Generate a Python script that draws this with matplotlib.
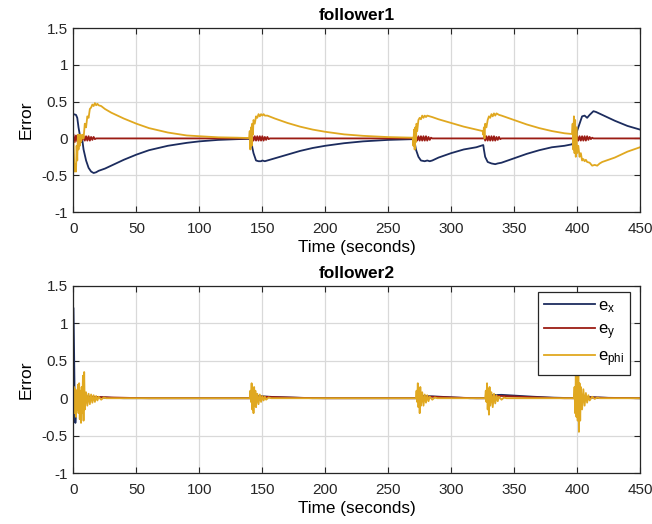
import matplotlib
matplotlib.use("Agg")
import matplotlib.pyplot as plt

plt.rcParams['font.family'] = ['Liberation Sans', 'DejaVu Sans']
plt.rcParams['mathtext.fontset'] = 'custom'
plt.rcParams['mathtext.rm'] = 'Liberation Sans'
plt.rcParams['mathtext.it'] = 'Liberation Sans'

# ---------------- follower1 ----------------
ex1_t = [0, 2, 3, 4, 5, 6, 7, 8, 10, 12, 14, 16, 18, 20, 25, 30, 40, 50, 60, 75, 90, 100, 115, 130, 140,
         140.5, 141, 142, 143, 145, 147, 149, 150, 152, 154, 160, 170, 180, 190, 200, 215, 230, 250, 269.5,
         271, 272, 274, 276, 279, 281, 283, 285, 290, 300, 310, 320, 325.5,
         326, 327, 329, 332, 335, 337, 340, 350, 360, 370, 380, 390, 396,
         397, 398, 399, 400, 402, 404, 406, 408, 410, 413, 415, 420, 425, 430, 440, 450]
ex1_v = [0.33, 0.32, 0.28, 0.15, 0.05, -0.05, -0.02, -0.15, -0.30, -0.40, -0.45, -0.47, -0.46, -0.44, -0.41, -0.37, -0.29, -0.22, -0.16, -0.10, -0.06, -0.04, -0.02, -0.01, -0.005,
         -0.08, 0.02, -0.12, -0.20, -0.30, -0.31, -0.31, -0.30, -0.31, -0.30, -0.27, -0.22, -0.17, -0.13, -0.10, -0.065, -0.04, -0.02, -0.01,
         -0.05, -0.15, -0.25, -0.30, -0.31, -0.30, -0.31, -0.30, -0.26, -0.20, -0.15, -0.12, -0.09,
         -0.15, -0.25, -0.32, -0.34, -0.35, -0.34, -0.33, -0.27, -0.21, -0.16, -0.12, -0.10, -0.08,
         -0.05, 0.05, -0.10, 0.10, 0.20, 0.30, 0.31, 0.28, 0.32, 0.37, 0.36, 0.32, 0.28, 0.24, 0.17, 0.12]

ey1_t = [0, 1, 2, 3, 4, 5, 6, 7, 8, 9, 10, 11, 12, 13, 14, 15, 16, 17, 18, 140,
         140.5, 141, 142, 143, 144, 145, 146, 147, 148, 149, 150, 151, 152, 153, 154, 155, 156, 270,
         270.5, 271, 272, 273, 274, 275, 276, 277, 278, 279, 280, 281, 282, 283, 284, 285, 326,
         326.5, 327, 328, 329, 330, 331, 332, 333, 334, 335, 336, 337, 338, 339, 340, 398,
         398.5, 399, 400, 401, 402, 403, 404, 405, 406, 407, 408, 409, 410, 411, 412, 413, 450]
ey1_v = [0.05, -0.05, 0.04, -0.04, 0.03, -0.03, 0.02, -0.02, 0.03, -0.03, 0.03, -0.03, 0.03, -0.03, 0.02, -0.02, 0.02, -0.01, 0.0, 0.0,
         0.03, -0.03, 0.03, -0.03, 0.03, -0.03, 0.03, -0.03, 0.03, -0.03, 0.03, -0.03, 0.02, -0.02, 0.02, -0.01, 0.0, 0.0,
         0.03, -0.03, 0.03, -0.03, 0.03, -0.03, 0.03, -0.03, 0.03, -0.03, 0.03, -0.03, 0.02, -0.02, 0.01, 0.0, 0.0,
         0.03, -0.03, 0.03, -0.03, 0.03, -0.03, 0.03, -0.03, 0.03, -0.03, 0.02, -0.02, 0.02, -0.01, 0.0, 0.0,
         0.04, -0.04, 0.03, -0.03, 0.03, -0.03, 0.03, -0.03, 0.03, -0.03, 0.03, -0.02, 0.02, -0.01, 0.01, 0.0, 0.0]

ephi1_t = [0, 0.5, 1, 1.5, 2, 2.5, 3, 3.5, 4, 4.5, 5, 5.5, 6, 7, 8, 9, 10, 11, 12, 13, 14, 15, 16, 17, 18, 19, 20, 22, 25, 30,
           40, 50, 60, 75, 90, 100, 115, 130, 139.5,
           140, 140.5, 141, 141.5, 142, 142.5, 143, 144, 145, 146, 147, 148, 149, 150, 151, 152, 154, 160, 170, 180, 190, 200,
           215, 230, 250, 269.5,
           270, 270.5, 271, 271.5, 272, 272.5, 273, 274, 275, 276, 277, 278, 279, 280, 281, 283, 285, 290, 300, 310, 320, 325,
           325.5, 326, 326.5, 327, 328, 329, 330, 331, 332, 333, 334, 335, 336, 338, 340, 350, 360, 370, 380, 390, 396,
           396.5, 397, 397.5, 398, 398.5, 399, 399.5, 400, 401, 402, 403, 404, 405, 406, 407, 408, 410, 412, 414, 416, 418,
           420, 425, 430, 440, 450]
ephi1_v = [-0.05, -0.30, -0.45, -0.35, -0.45, -0.10, -0.30, 0.05, -0.15, 0.05, -0.10, 0.05, -0.05, 0.05, 0.0, 0.20, 0.15, 0.30, 0.28, 0.40, 0.42, 0.46, 0.44, 0.48, 0.45, 0.47, 0.45, 0.44, 0.40, 0.35,
           0.27, 0.20, 0.14, 0.08, 0.04, 0.03, 0.015, 0.01, 0.005,
           0.10, -0.15, 0.15, -0.10, 0.20, 0.05, 0.25, 0.20, 0.30, 0.28, 0.33, 0.30, 0.33, 0.31, 0.33, 0.31, 0.31, 0.27, 0.21, 0.16, 0.12, 0.09,
           0.055, 0.035, 0.018, 0.01,
           -0.10, 0.12, -0.15, 0.15, -0.05, 0.20, 0.10, 0.25, 0.28, 0.26, 0.31, 0.28, 0.31, 0.29, 0.31, 0.30, 0.29, 0.26, 0.21, 0.16, 0.12, 0.10,
           0.05, 0.15, 0.0, 0.20, 0.15, 0.25, 0.30, 0.28, 0.33, 0.30, 0.34, 0.31, 0.34, 0.32, 0.31, 0.25, 0.19, 0.14, 0.10, 0.07, 0.06,
           0.20, -0.15, 0.30, -0.20, 0.25, -0.25, 0.15, -0.20, -0.10, -0.25, -0.20, -0.30, -0.28, -0.31, -0.29, -0.32, -0.33, -0.37, -0.36, -0.37, -0.34,
           -0.32, -0.29, -0.26, -0.18, -0.12]

# ---------------- follower2 ----------------
ex2_t = [0, 0.5, 1, 1.5, 2, 3, 5, 8, 12, 20, 30, 40, 140, 143, 150, 160, 175, 190, 272, 275, 285, 300, 315,
         327, 330, 340, 350, 365, 380, 398, 402, 410, 425, 450]
ex2_v = [1.2, 0.6, -0.1, -0.33, -0.2, 0.05, -0.03, 0.03, 0.02, 0.015, 0.005, 0.0, 0.0, 0.03, 0.025, 0.015, 0.008, 0.0, 0.0, 0.03, 0.025, 0.012, 0.0,
         0.0, 0.04, 0.045, 0.035, 0.02, 0.008, 0.0, 0.02, 0.015, 0.005, 0.0]

ey2_t = [0, 2, 4, 6, 8, 10, 15, 20, 30, 45, 60, 140, 143, 150, 165, 180, 200, 272, 276, 285, 300, 320,
         327, 332, 340, 355, 370, 390, 398, 402, 410, 425, 450]
ey2_v = [0.0, 0.03, -0.03, 0.03, -0.02, 0.02, 0.02, 0.015, 0.01, 0.004, 0.0, 0.0, 0.02, 0.02, 0.012, 0.005, 0.0, 0.0, 0.02, 0.02, 0.01, 0.0,
         0.0, 0.03, 0.03, 0.02, 0.01, 0.0, 0.0, 0.015, 0.01, 0.004, 0.0]

ephi2_t = [0, 0.5, 1, 1.5, 2, 2.5, 3, 3.5, 4, 4.5, 5, 5.5, 6, 6.5, 7, 7.5, 8, 8.5, 9, 10, 11, 12, 13, 14, 15, 16, 17, 18, 19, 20, 22, 24, 26, 140,
           140.5, 141, 141.5, 142, 142.5, 143, 143.5, 144, 144.5, 145, 146, 147, 148, 149, 150, 151, 152, 153, 155, 157, 272,
           272.5, 273, 273.5, 274, 274.5, 275, 275.5, 276, 277, 278, 279, 280, 281, 282, 283, 285, 287, 289, 327,
           327.5, 328, 328.5, 329, 329.5, 330, 330.5, 331, 332, 333, 334, 335, 336, 337, 338, 340, 342, 344, 397.5,
           398, 398.5, 399, 399.5, 400, 400.5, 401, 401.5, 402, 402.5, 403, 404, 405, 406, 407, 408, 409, 410, 412, 414, 416, 418, 420, 450]
ephi2_v = [0.0, 0.15, -0.20, 0.12, -0.25, 0.10, -0.15, 0.18, -0.20, 0.20, -0.28, 0.10, -0.33, 0.15, -0.20, 0.30, -0.30, 0.35, -0.15, 0.08, -0.10, 0.06, -0.08, 0.05, -0.06, 0.04, -0.05, 0.03, -0.03, 0.02, -0.02, 0.01, 0.0, 0.0,
           0.10, -0.05, 0.20, -0.15, 0.12, -0.20, 0.15, -0.10, 0.10, -0.12, 0.06, -0.08, 0.05, -0.05, 0.03, -0.03, 0.02, -0.02, 0.01, 0.0, 0.0,
           0.10, -0.05, 0.20, -0.12, 0.12, -0.20, 0.15, -0.10, 0.08, -0.10, 0.05, -0.06, 0.04, -0.04, 0.02, -0.02, 0.01, 0.0, 0.0,
           0.10, -0.05, 0.20, -0.15, 0.12, -0.22, 0.15, -0.10, 0.08, -0.12, 0.06, -0.07, 0.04, -0.04, 0.02, -0.02, 0.01, 0.0, 0.0,
           0.15, -0.20, 0.30, -0.25, 0.32, -0.30, 0.32, -0.45, 0.20, -0.30, 0.15, -0.15, 0.12, -0.10, 0.07, -0.06, 0.04, -0.03, 0.02, -0.01, 0.01, 0.0, 0.0, 0.0]

x_ticks = [0, 50, 100, 150, 200, 250, 300, 350, 400, 450]
y_ticks = [-1, -0.5, 0, 0.5, 1, 1.5]
y_ticklabels = ['-1', '-0.5', '0', '0.5', '1', '1.5']
titles = ['follower1', 'follower2']
labels = [r'e$_\mathregular{x}$', r'e$_\mathregular{y}$', r'e$_\mathregular{phi}$']

c_x = '#1c2c5e'
c_y = '#9c1c14'
c_phi = '#e0a820'

fig = plt.figure(figsize=(6.52, 5.24), dpi=100)
ax1 = fig.add_axes([0.1127, 0.5954, 0.8689, 0.3511])
ax2 = fig.add_axes([0.1127, 0.0973, 0.8689, 0.3569])

data = [
    ((ex1_t, ex1_v), (ey1_t, ey1_v), (ephi1_t, ephi1_v)),
    ((ex2_t, ex2_v), (ey2_t, ey2_v), (ephi2_t, ephi2_v)),
]

for ax, title, series in zip([ax1, ax2], titles, data):
    (xt, xv), (yt, yv), (pt, pv) = series
    ax.plot(xt, xv, color=c_x, lw=1.3, label=labels[0])
    ax.plot(yt, yv, color=c_y, lw=1.3, label=labels[1])
    ax.plot(pt, pv, color=c_phi, lw=1.3, label=labels[2])
    ax.set_xlim(0, 450)
    ax.set_ylim(-1, 1.5)
    ax.set_xticks(x_ticks)
    ax.set_yticks(y_ticks)
    ax.set_yticklabels(y_ticklabels)
    ax.grid(True, color='#d9d9d9', lw=0.9)
    ax.set_axisbelow(True)
    ax.tick_params(direction='in', top=True, right=True, labelsize=11, length=4, width=0.8, colors='#262626')
    ax.tick_params(axis='x', pad=7)
    ax.tick_params(axis='y', pad=4)
    for s in ax.spines.values():
        s.set_color('#262626')
        s.set_linewidth(0.9)
    ax.set_title(title, fontsize=12.5, fontweight='bold', pad=6)
    ax.set_xlabel('Time (seconds)', fontsize=12.3, labelpad=3)
    ax.set_ylabel('Error', fontsize=12.5, labelpad=6)

leg = ax2.legend(loc='upper right', bbox_to_anchor=(0.982, 0.968), borderaxespad=0, fontsize=12,
                 handlelength=3.1, fancybox=False, framealpha=1, edgecolor='#262626',
                 borderpad=0.35, labelspacing=0.45, handletextpad=0.15)
leg.get_frame().set_linewidth(0.9)

fig.savefig('out.png', dpi=100)
